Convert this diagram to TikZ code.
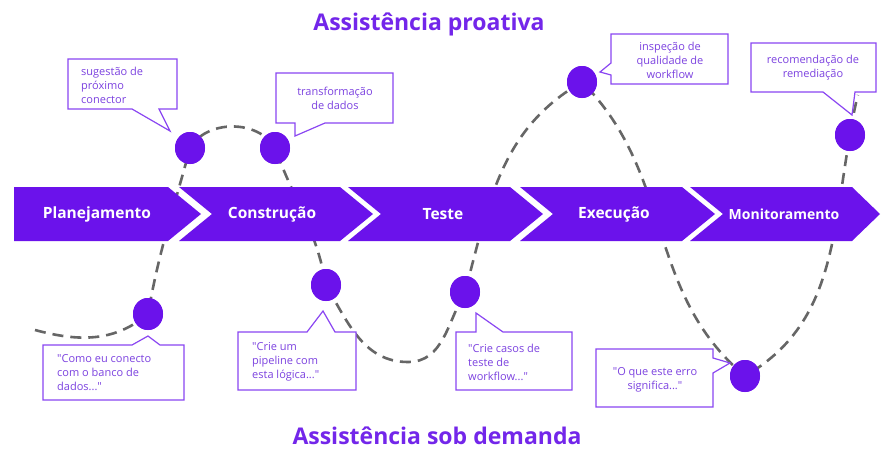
\documentclass[tikz,border=0pt]{standalone}
\usepackage{fontspec}
\setmainfont{Open Sans}
\newfontfamily\calloutfont{Open Sans}
\usetikzlibrary{shapes.geometric}
\definecolor{chev}{HTML}{6B12EB}
\definecolor{ttl}{HTML}{7326EA}
\definecolor{cbord}{HTML}{8A46F2}
\definecolor{ctext}{HTML}{7C42E0}
\definecolor{dashgray}{HTML}{666666}
\begin{document}
\begin{tikzpicture}[x=1pt,y=1pt,
  dot/.style={ellipse, fill=chev, minimum width=30pt, minimum height=32pt, inner sep=0pt},
  callout/.style={draw=cbord, fill=white, line width=1.2pt, line join=miter},
  ctxt/.style={text=ctext, font=\calloutfont\fontsize{11}{14}\selectfont, inner sep=0pt},
  trail/.style={draw=dashgray, line width=2.6pt, dash pattern=on 11pt off 7pt},
  chevlbl/.style={text=white, font=\fontsize{15.5}{18}\selectfont\bfseries, inner sep=0pt},
  ttlstyle/.style={text=ttl, font=\fontsize{23}{26}\selectfont\bfseries, inner sep=0pt}
]
\path[use as bounding box, fill=white] (0,0) rectangle (895,-461);

% titles
\node[ttlstyle] (t1) at (429,-24) {Assistência proativa};
\node[ttlstyle] (t2) at (437,-436) {Assistência sob demanda};

% dots (positions)
\coordinate (s) at (35,-330);
\coordinate (e) at (858,-95);
\coordinate (tr) at (408,-362);
\node[dot] (c1) at (190,-148) {};
\node[dot] (c2) at (275,-148) {};
\node[dot] (c3) at (326,-285) {};
\node[dot] (c4) at (148,-314) {};
\node[dot] (c5) at (465,-292) {};
\node[dot] (c6) at (582,-82) {};
\node[dot] (c7) at (850,-135) {};
\node[dot] (c8) at (745,-376) {};

% dashed trail
\draw[trail] (s) to[out=-15,in=220] (c4.center)
  to[out=80,in=255] (c1.center)
  to[out=60,in=120] (c2.center)
  to[out=-70,in=100] (c3.center)
  to[out=-60,in=180] (tr)
  to[out=0,in=240] (c5.center)
  to[out=75,in=210] (c6.center)
  to[out=-45,in=140] (c8.center)
  to[out=30,in=260] (c7.center)
  to[out=80,in=255] (e);

% chevrons
\fill[chev] (14,-187) -- (168,-187) -- (201,-214) -- (168,-241) -- (14,-241) -- cycle;
\foreach \a/\b/\t in {179/340/33, 348/510/33, 520/682/33, 690/852/28}
  \fill[chev] (\a,-187) -- (\b,-187) -- ({\b+\t},-214) -- (\b,-241) -- (\a,-241) -- ({\a+33},-214) -- cycle;
\node[chevlbl] (l1) at (97,-214) {Planejamento};
\node[chevlbl] (l2) at (272,-214) {Construção};
\node[chevlbl] (l3) at (443,-214) {Teste};
\node[chevlbl] (l4) at (614,-214) {Execução};
\node[chevlbl, font=\fontsize{14}{16}\selectfont\bfseries] (l5) at (784,-214) {Monitoramento};

% redraw dots on top
\foreach \n/\p in {d1/{(190,-148)}, d2/{(275,-148)}, d3/{(326,-285)}, d4/{(148,-314)}, d5/{(465,-292)}, d6/{(582,-82)}, d7/{(850,-135)}, d8/{(745,-376)}}
  \node[dot] (\n) at \p {};

% callouts
\draw[callout] (68,-59) -- (177,-59) -- (177,-109) -- (159,-109) -- (170,-131) -- (132,-109) -- (68,-109) -- cycle;
\node[ctxt, anchor=west, align=left] (k1) at (81,-85) {sugestão de\\próximo\\conector};

\draw[callout] (276,-73) -- (393,-73) -- (393,-123) -- (325,-123) -- (295,-136) -- (295,-123) -- (276,-123) -- cycle;
\node[ctxt, align=center] (k2) at (335,-98) {transformação\\de dados};

\draw[callout] (611,-34) -- (728,-34) -- (728,-84) -- (611,-84) -- (611,-75) -- (600,-72) -- (611,-63) -- cycle;
\node[ctxt, align=center] (k3) at (670,-60) {inspeção de\\qualidade de\\workflow};

\draw[callout] (751,-43) -- (876,-43) -- (876,-92) -- (855,-92) -- (852,-115) -- (823,-92) -- (751,-92) -- cycle;
\node[ctxt, align=center] (k4) at (813,-68) {recomendação de\\remediação};

\draw[callout] (43,-345) -- (132,-345) -- (148,-336) -- (160,-345) -- (184,-345) -- (184,-400) -- (43,-400) -- cycle;
\node[ctxt, anchor=west, align=left] (k5) at (57,-373) {"Como eu conecto\\com o banco de\\dados..."};

\draw[callout] (238,-332) -- (307,-332) -- (323,-311) -- (335,-332) -- (356,-332) -- (356,-390) -- (238,-390) -- cycle;
\node[ctxt, anchor=west, align=left] (k6) at (252,-362) {"Crie um\\pipeline com\\esta lógica..."};

\draw[callout] (456,-332) -- (476,-332) -- (476,-313) -- (503,-332) -- (572,-332) -- (572,-390) -- (456,-390) -- cycle;
\node[ctxt, anchor=west, align=left] (k7) at (468,-362) {"Crie casos de\\teste de\\workflow..."};

\draw[callout] (596,-349) -- (713,-349) -- (713,-358) -- (730,-363) -- (713,-373) -- (713,-407) -- (596,-407) -- cycle;
\node[ctxt, align=center] (k8) at (655,-380) {"O que este erro\\significa..."};
\end{tikzpicture}
\end{document}
